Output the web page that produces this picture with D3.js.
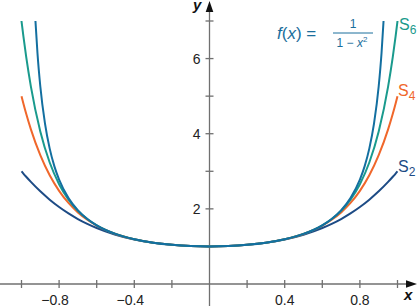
<!DOCTYPE html>
<html>
<head>
<meta charset="utf-8">
<script src="https://cdn.jsdelivr.net/npm/d3@7"></script>
<style>
  body { margin: 0; background: #fff; }
  text { font-family: "Liberation Sans", Arial, sans-serif; }
</style>
</head>
<body>
<svg id="chart" width="420" height="306"></svg>
<script>
// sample points
var xVals = [-1, -0.99, -0.975, -0.95, -0.9, -0.85, -0.8, -0.75, -0.7, -0.65, -0.6, -0.5, -0.4, -0.3, -0.2, -0.1, 0,
             0.1, 0.2, 0.3, 0.4, 0.5, 0.6, 0.65, 0.7, 0.75, 0.8, 0.85, 0.9, 0.95, 0.975, 0.99, 1];
var s2Vals = [3, 2.94, 2.854, 2.717, 2.466, 2.245, 2.05, 1.879, 1.73, 1.601, 1.49, 1.313, 1.186, 1.098, 1.042, 1.01, 1,
              1.01, 1.042, 1.098, 1.186, 1.313, 1.49, 1.601, 1.73, 1.879, 2.05, 2.245, 2.466, 2.717, 2.854, 2.94, 3];
var s4Vals = [5, 4.805, 4.53, 4.115, 3.428, 2.894, 2.48, 2.157, 1.906, 1.709, 1.553, 1.332, 1.191, 1.099, 1.042, 1.01, 1,
              1.01, 1.042, 1.099, 1.191, 1.332, 1.553, 1.709, 1.906, 2.157, 2.48, 2.894, 3.428, 4.115, 4.53, 4.805, 5];
var s6Vals = [7, 6.595, 6.044, 5.254, 4.059, 3.233, 2.656, 2.245, 1.948, 1.728, 1.561, 1.333, 1.191, 1.099, 1.042, 1.01, 1,
              1.01, 1.042, 1.099, 1.191, 1.333, 1.561, 1.728, 1.948, 2.245, 2.656, 3.233, 4.059, 5.254, 6.044, 6.595, 7];
var fX = [-0.9258, -0.915, -0.9, -0.875, -0.85, -0.825, -0.8, -0.75, -0.7, -0.65, -0.6, -0.5, -0.4, -0.3, -0.2, -0.1, 0,
          0.1, 0.2, 0.3, 0.4, 0.5, 0.6, 0.65, 0.7, 0.75, 0.8, 0.825, 0.85, 0.875, 0.9, 0.915, 0.9258];
var fVals = [7, 6.143, 5.263, 4.267, 3.604, 3.131, 2.778, 2.286, 1.961, 1.732, 1.563, 1.333, 1.19, 1.099, 1.042, 1.01, 1,
             1.01, 1.042, 1.099, 1.19, 1.333, 1.563, 1.732, 1.961, 2.286, 2.778, 3.131, 3.604, 4.267, 5.263, 6.143, 7];

var xTicks = [-1, -0.8, -0.6, -0.4, -0.2, 0.2, 0.4, 0.6, 0.8, 1];
var xLabels = [-0.8, -0.4, 0.4, 0.8];
var yTicks = [1, 2, 3, 4, 5, 6, 7];
var yLabels = [2, 4, 6];

var series = [
  {name: "2", xs: xVals, ys: s2Vals, color: "#1d4b85", lx: 398, ly: 172},
  {name: "4", xs: xVals, ys: s4Vals, color: "#f0672b", lx: 398, ly: 96},
  {name: "6", xs: xVals, ys: s6Vals, color: "#1a9a8d", lx: 399, ly: 30},
  {name: "f", xs: fX, ys: fVals, color: "#136fa0"}
];

var svg = d3.select("#chart");
var x = d3.scaleLinear().domain([-1, 1]).range([21.5, 397.5]);
var y = d3.scaleLinear().domain([0, 7]).range([284, 21]);
var axisColor = "#707070";

// x axis
svg.append("line")
    .attr("x1", 0).attr("x2", 410)
    .attr("y1", y(0)).attr("y2", y(0))
    .attr("stroke", axisColor).attr("stroke-width", 1.3);
svg.selectAll(".xtick").data(xTicks).enter().append("line")
    .attr("x1", function(d) { return x(d); }).attr("x2", function(d) { return x(d); })
    .attr("y1", y(0) - 4).attr("y2", y(0) + 4)
    .attr("stroke", axisColor).attr("stroke-width", 1.3);
svg.append("path")
    .attr("d", "M417," + y(0) + "L406," + (y(0) - 3.8) + "L406," + (y(0) + 3.8) + "Z")
    .attr("fill", "#111");
svg.selectAll(".xlab").data(xLabels).enter().append("text")
    .attr("x", function(d) { return x(d) + (d < 0 ? -4 : 0); })
    .attr("y", 305)
    .attr("text-anchor", "middle")
    .attr("font-size", 14).attr("fill", "#222")
    .text(function(d) { return d3.format(".1f")(d).replace("-", "\u2212"); });
svg.append("text")
    .attr("x", 404).attr("y", 300)
    .attr("font-size", 15).attr("font-weight", "bold").attr("font-style", "italic")
    .attr("fill", "#111").text("x");

// y axis
svg.append("line")
    .attr("x1", x(0)).attr("x2", x(0))
    .attr("y1", 306).attr("y2", 10)
    .attr("stroke", axisColor).attr("stroke-width", 1.3);
svg.selectAll(".ytick").data(yTicks).enter().append("line")
    .attr("x1", x(0) - 4).attr("x2", x(0) + 4)
    .attr("y1", function(d) { return y(d); }).attr("y2", function(d) { return y(d); })
    .attr("stroke", axisColor).attr("stroke-width", 1.3);
svg.append("path")
    .attr("d", "M" + x(0) + ",1L" + (x(0) - 3.8) + ",12L" + (x(0) + 3.8) + ",12Z")
    .attr("fill", "#111");
svg.selectAll(".ylab").data(yLabels).enter().append("text")
    .attr("x", x(0) - 9)
    .attr("y", function(d) { return y(d) + 5; })
    .attr("text-anchor", "end")
    .attr("font-size", 14).attr("fill", "#222")
    .text(function(d) { return d; });
svg.append("text")
    .attr("x", 193).attr("y", 10)
    .attr("font-size", 15).attr("font-weight", "bold").attr("font-style", "italic")
    .attr("fill", "#111").text("y");

// curves
var line = d3.line()
    .x(function(d) { return x(d[0]); })
    .y(function(d) { return y(d[1]); })
    .curve(d3.curveMonotoneX);

series.forEach(function(s) {
  svg.append("path")
      .datum(d3.zip(s.xs, s.ys))
      .attr("d", line)
      .attr("fill", "none")
      .attr("stroke", s.color)
      .attr("stroke-width", 2);
  if (s.lx) {
    var t = svg.append("text")
        .attr("x", s.lx).attr("y", s.ly)
        .attr("font-size", 16).attr("fill", s.color);
    t.append("tspan").text("S");
    t.append("tspan").attr("dy", 4).attr("font-size", 12).text(s.name);
  }
});

// f(x) label
var fColor = "#1a6e9c";
var fl = svg.append("text").attr("x", 277).attr("y", 39)
    .attr("font-size", 17).attr("fill", fColor);
fl.append("tspan").attr("font-style", "italic").text("f");
fl.append("tspan").text("(");
fl.append("tspan").attr("font-style", "italic").text("x");
fl.append("tspan").text(") =");
svg.append("line")
    .attr("x1", 333).attr("x2", 373).attr("y1", 33).attr("y2", 33)
    .attr("stroke", fColor).attr("stroke-width", 1);
svg.append("text").attr("x", 353).attr("y", 28)
    .attr("text-anchor", "middle").attr("font-size", 12).attr("fill", fColor).text("1");
var den = svg.append("text").attr("x", 352).attr("y", 47)
    .attr("text-anchor", "middle").attr("font-size", 12).attr("fill", fColor);
den.append("tspan").text("1 \u2212 ");
den.append("tspan").attr("font-style", "italic").text("x");
den.append("tspan").attr("dy", -5).attr("font-size", 8).text("2");
</script>
</body>
</html>
